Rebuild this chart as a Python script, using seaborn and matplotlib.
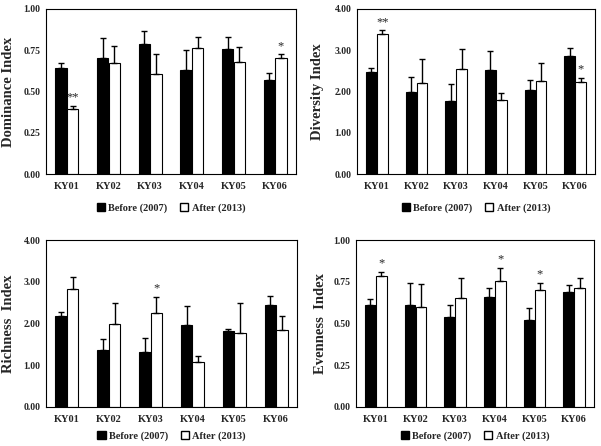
import pandas as pd
import matplotlib.pyplot as plt
import seaborn as sns
from matplotlib.patches import Patch

sns.set_theme(style="white")
plt.rcParams['font.family'] = ['Liberation Serif', 'DejaVu Serif']
plt.rcParams['font.weight'] = 'bold'

sites = ['KY01', 'KY02', 'KY03', 'KY04', 'KY05', 'KY06']
periods = ['Before (2007)', 'After (2013)']

# means and upper error (SE)
dom_before = [0.645, 0.705, 0.785, 0.63, 0.76, 0.57]
dom_before_err = [0.025, 0.12, 0.08, 0.12, 0.07, 0.04]
dom_after = [0.395, 0.67, 0.605, 0.765, 0.68, 0.705]
dom_after_err = [0.02, 0.105, 0.12, 0.065, 0.09, 0.02]
dom_stars = ['**', '', '', '', '', '*']

div_before = [2.47, 2.00, 1.77, 2.52, 2.03, 2.87]
div_before_err = [0.09, 0.36, 0.40, 0.46, 0.25, 0.18]
div_after = [3.39, 2.21, 2.54, 1.79, 2.25, 2.24]
div_after_err = [0.09, 0.59, 0.50, 0.18, 0.45, 0.09]
div_stars = ['**', '', '', '', '', '*']

ric_before = [2.17, 1.36, 1.32, 1.97, 1.83, 2.45]
ric_before_err = [0.10, 0.27, 0.34, 0.44, 0.04, 0.21]
ric_after = [2.82, 1.99, 2.26, 1.07, 1.77, 1.85]
ric_after_err = [0.30, 0.51, 0.37, 0.15, 0.71, 0.34]
ric_stars = ['', '', '*', '', '', '']

eve_before = [0.61, 0.61, 0.54, 0.66, 0.52, 0.69]
eve_before_err = [0.035, 0.135, 0.07, 0.05, 0.07, 0.04]
eve_after = [0.785, 0.60, 0.65, 0.755, 0.70, 0.71]
eve_after_err = [0.025, 0.135, 0.12, 0.08, 0.045, 0.065]
eve_stars = ['*', '', '', '*', '*', '']

panels = [
    ('Dominance Index', dom_before, dom_before_err, dom_after, dom_after_err, dom_stars, 1.0, 0.25),
    ('Diversity Index', div_before, div_before_err, div_after, div_after_err, div_stars, 4.0, 1.0),
    ('Richness  Index', ric_before, ric_before_err, ric_after, ric_after_err, ric_stars, 4.0, 1.0),
    ('Evenness  Index', eve_before, eve_before_err, eve_after, eve_after_err, eve_stars, 1.0, 0.25),
]

fig = plt.figure(figsize=(6.01, 4.46), dpi=100)
rects = [
    [46 / 601, 1 - 174 / 446, 250 / 601, 165 / 446],
    [357 / 601, 1 - 174 / 446, 238 / 601, 165 / 446],
    [46 / 601, 1 - 407 / 446, 251 / 601, 167 / 446],
    [356 / 601, 1 - 407 / 446, 238 / 601, 167 / 446],
]
legend_y = [-34 / 165, -34 / 165, -29 / 167, -29 / 167]
label_x = [-0.148, -0.164, -0.148, -0.151]

for rect, ly, lx, (label, bef, bef_err, aft, aft_err, stars, ymax, step) in zip(rects, legend_y, label_x, panels):
    ax = fig.add_axes(rect)
    df = pd.DataFrame({
        'site': sites * 2,
        'period': [periods[0]] * 6 + [periods[1]] * 6,
        'value': bef + aft,
        'err': bef_err + aft_err,
    })
    sns.barplot(data=df, x='site', y='value', hue='period', order=sites,
                hue_order=periods, palette=['black', 'white'], width=0.55,
                edgecolor='black', linewidth=0.8, errorbar=None, gap=0,
                legend=False, ax=ax)
    bars = ax.patches[:12]
    errs = bef_err + aft_err
    for i, p in enumerate(bars):
        xc = p.get_x() + p.get_width() / 2
        h = p.get_height()
        ax.errorbar(xc, h, yerr=[[0], [errs[i]]], fmt='none', ecolor='black',
                    elinewidth=1.0, capsize=2.2, capthick=1.0)
    for j, s in enumerate(stars):
        if s:
            p = bars[6 + j]
            xc = p.get_x() + p.get_width() / 2
            ax.text(xc, p.get_height() + errs[6 + j] + ymax * 0.015, s,
                    ha='center', va='bottom', fontsize=9, fontweight='normal')
    ax.set_ylim(0, ymax)
    ax.set_xlim(-0.5, 5.5)
    ax.set_yticks([step * k for k in range(5)])
    ax.set_yticklabels([f'{step * k:.2f}' for k in range(5)], fontsize=7, fontweight='bold')
    ax.set_xticks(range(6))
    ax.set_xticklabels(sites, fontsize=7.5, fontweight='bold')
    ax.set_xlabel('')
    ax.set_ylabel(label, fontsize=10.5, fontweight='bold', va='center')
    ax.yaxis.set_label_coords(lx, 0.5)
    ax.tick_params(axis='x', length=0, pad=6)
    ax.tick_params(axis='y', length=0, pad=4)
    for sp in ax.spines.values():
        sp.set_color('black')
        sp.set_linewidth(0.8)
    handles = [Patch(facecolor='black', edgecolor='black', label=periods[0]),
               Patch(facecolor='white', edgecolor='black', label=periods[1])]
    ax.legend(handles=handles, loc='center', bbox_to_anchor=(0.5, ly),
              ncol=2, frameon=False, prop={'size': 7.5, 'weight': 'bold'},
              handlelength=0.8, handleheight=0.8, handletextpad=0.3,
              columnspacing=1.2, borderpad=0.1)

fig.savefig('out.png', dpi=100)
